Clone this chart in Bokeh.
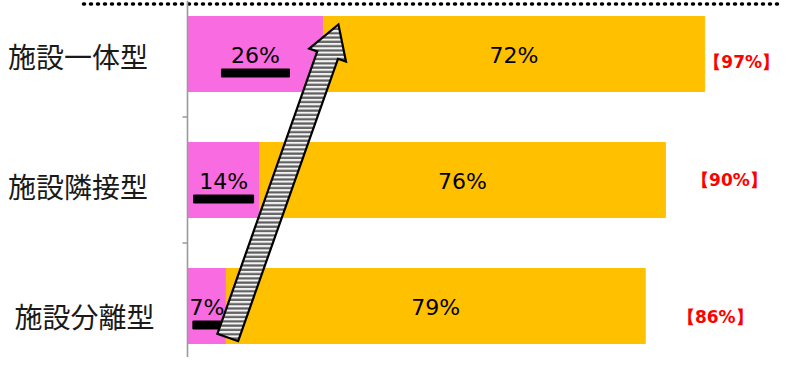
import numpy as np
from bokeh.plotting import figure
from bokeh.models import Range1d, Span, ColumnDataSource
from bokeh.core.properties import value
from bokeh.embed import file_html
from bokeh.resources import INLINE

# ---------------- data ----------------
categories = ["施設一体型", "施設隣接型", "施設分離型"]
pink_values = [25.6, 13.6, 7.3]      # %
orange_values = [71.8, 76.4, 78.9]   # %
totals = [round(a + b) for a, b in zip(pink_values, orange_values)]

# ---------------- layout constants ----------------
W, H = 781, 357
PX_PER_PCT = 5.31          # screen px per percent
AXIS_FX = 187              # figure px of 0 %
ROW_PX = 126               # px between rows
ROW0_FY = 53.5             # figure px of row 0 centre (from top)

PINK = "#F96BE1"
GOLD = "#FFC000"
JP = value("Noto Sans CJK JP")
NUM = value("DejaVu Sans")

x_start = -AXIS_FX / PX_PER_PCT
x_end = (W - AXIS_FX) / PX_PER_PCT
y_top = -ROW0_FY / ROW_PX
y_bot = (H - ROW0_FY) / ROW_PX

p = figure(width=W, height=H, output_backend="svg", toolbar_location=None,
           x_range=Range1d(x_start, x_end), y_range=Range1d(y_bot, y_top),
           x_axis_type=None, y_axis_type=None, min_border=0)
p.grid.visible = False
p.outline_line_color = None
p.background_fill_color = "white"
p.border_fill_color = "white"

idx = list(range(len(categories)))
src = ColumnDataSource(dict(
    y=idx,
    cat=categories,
    pink=pink_values,
    orange=orange_values,
    right=[a + b for a, b in zip(pink_values, orange_values)],
    pink_mid=[a / 2 for a in pink_values],
    orange_mid=[a + b / 2 for a, b in zip(pink_values, orange_values)],
    pink_lbl=[f"{round(a)}%" for a in pink_values],
    orange_lbl=[f"{round(b)}%" for b in orange_values],
    tot_lbl=[f"【{t}%】" for t in totals],
))

bar_h = 75 / ROW_PX
p.hbar(y="y", left=0, right="pink", height=bar_h, color=PINK, source=src)
p.hbar(y="y", left="pink", right="right", height=bar_h, color=GOLD, source=src)

# dotted line at top
p.segment(x0=(83 - AXIS_FX) / PX_PER_PCT, x1=x_end, y0=y_top + 3.5 / ROW_PX, y1=y_top + 3.5 / ROW_PX,
          line_color="black", line_width=3.5, line_dash="1 6", line_cap="round")

# axis line + ticks between categories
p.add_layout(Span(location=0, dimension="height", line_color="#9a9a9a", line_width=1.6))
bounds = [i + 0.5 for i in idx[:-1]]
p.ray(x=[0] * len(bounds), y=bounds, length=5, length_units="screen", angle=np.pi,
      line_color="#9a9a9a", line_width=1.5)

# underline bars under pink labels
ul_half_px = [34, 30, 14]
p.hbar(y=[i + 19 / ROW_PX for i in idx],
       left=[a / 2 - hw / PX_PER_PCT for a, hw in zip(pink_values, ul_half_px)],
       right=[a / 2 + hw / PX_PER_PCT for a, hw in zip(pink_values, ul_half_px)],
       height=8 / ROW_PX, color="black")

# striped arrow (from bottom pink end to top pink end)
def to_img(xv, yv):
    return AXIS_FX + xv * PX_PER_PCT, ROW0_FY + yv * ROW_PX

def to_data(X, Y):
    return (X - AXIS_FX) / PX_PER_PCT, (Y - ROW0_FY) / ROW_PX

T = np.array(to_img(pink_values[2], 2)) + np.array([1.5, 31.5])
P = np.array(to_img(pink_values[0], 0)) + np.array([15, -29.5])
u = (P - T) / np.linalg.norm(P - T)
n = np.array([-u[1], u[0]])
sw, hw, hl = 11, 19.5, 32.5
B = P - u * hl
pts = [T + n * sw, B + n * sw, B + n * hw, P, B - n * hw, B - n * sw, T - n * sw]
ax, ay = zip(*[to_data(*pt) for pt in pts])
p.patch(list(ax), list(ay), fill_color="#f4f4f4", hatch_pattern="horizontal_line",
        hatch_color="#5e5e5e", hatch_scale=4.3, hatch_weight=2.2,
        line_color="black", line_width=2.2, line_join="miter")

# labels
p.text(x="pink_mid", y="y", text="pink_lbl", source=src, text_font=NUM,
       text_font_size="22px", text_align="center", text_baseline="middle",
       y_offset=1, text_color="black")
p.text(x="orange_mid", y="y", text="orange_lbl", source=src, text_font=NUM,
       text_font_size="22px", text_align="center", text_baseline="middle",
       y_offset=1, text_color="black")

tot_src = ColumnDataSource(dict(x=src.data["right"], y=idx, t=src.data["tot_lbl"],
                                xo=[37, 64, 70], yo=[7.5, 0, 10.5]))
p.text(x="x", y="y", text="t", source=tot_src, x_offset="xo", y_offset="yo",
       text_font=NUM, text_font_size="17px", text_font_style="bold",
       text_color="#FF0000", text_align="center", text_baseline="middle")

cat_src = ColumnDataSource(dict(x=[0] * 3, y=idx, t=categories,
                                xo=[-109.5, -109.5, -103], yo=[1.5, 5.5, 10]))
p.text(x="x", y="y", text="t", source=cat_src, x_offset="xo", y_offset="yo",
       text_font=JP, text_font_size="28px", text_color="#1a1a1a",
       text_align="center", text_baseline="middle")

open("out.html", "w").write(file_html(p, INLINE))
